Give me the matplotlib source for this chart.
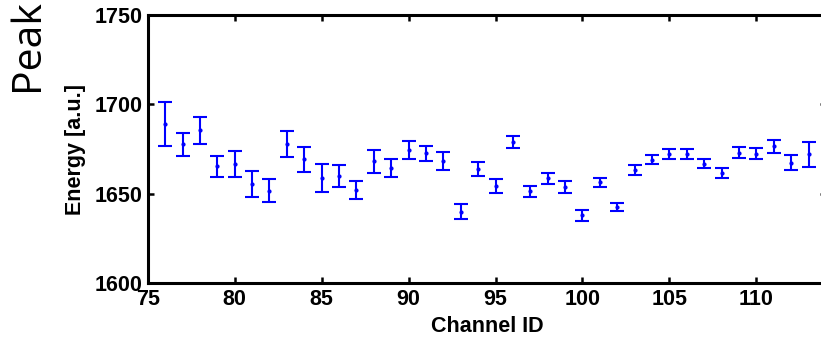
import matplotlib.pyplot as plt

# channel numbers and fitted peak energies with their errors
channels = list(range(76, 114))
energy = [1689.2, 1677.6, 1685.6, 1665.3, 1666.7, 1655.6, 1651.7, 1677.8, 1669.3, 1658.9,
          1659.9, 1652.1, 1668.1, 1664.2, 1674.5, 1672.6, 1668.3, 1640.0, 1663.9, 1654.2,
          1679.0, 1651.3, 1658.6, 1653.8, 1637.9, 1656.5, 1642.6, 1663.4, 1669.1, 1672.1,
          1672.1, 1666.9, 1661.8, 1673.0, 1672.4, 1676.5, 1667.4, 1672.0]
err = [12.3, 6.3, 7.5, 5.8, 7.2, 7.3, 6.5, 7.4, 7.0, 7.9,
       6.0, 5.0, 6.2, 5.0, 5.0, 4.3, 5.2, 4.2, 4.0, 4.0,
       3.3, 3.0, 2.9, 3.2, 3.0, 2.5, 2.4, 2.8, 2.6, 2.7,
       2.8, 2.7, 2.8, 3.0, 3.2, 3.6, 4.3, 7.2]

xticks = [75, 80, 85, 90, 95, 100, 105, 110]
yticks = [1600, 1650, 1700, 1750]

plt.rcParams['font.family'] = ['Liberation Sans', 'DejaVu Sans']
plt.rcParams['font.weight'] = 'bold'

fig = plt.figure(figsize=(8.21, 3.37), dpi=100)
ax = fig.add_axes([0.180, 0.160, 0.826, 0.795])

ax.errorbar(channels, energy, yerr=err, fmt='.', color='#0000ff', ecolor='#0000ff',
            markersize=4, elinewidth=1.5, capsize=4.7, capthick=1.5)

ax.set_xlim(75, 114)
ax.set_ylim(1600, 1750)
ax.set_xticks(xticks)
ax.set_yticks(yticks)
ax.tick_params(direction='in', length=4.3, width=1.8, labelsize=15.5, pad=4,
               top=True, right=True)
for s in ax.spines.values():
    s.set_linewidth(2.2)

ax.set_xlabel('Channel ID', fontsize=15.5, fontweight='bold', labelpad=4.5)
ax.set_ylabel('Energy [a.u.]', fontsize=15.5, fontweight='bold', labelpad=6)

fig.text(0.0463, 0.730, 'Peak', family='Open Sans', fontweight='normal', fontsize=29.5,
         rotation=90, rotation_mode='anchor', ha='left', va='baseline')

fig.savefig('out.png', dpi=100)
